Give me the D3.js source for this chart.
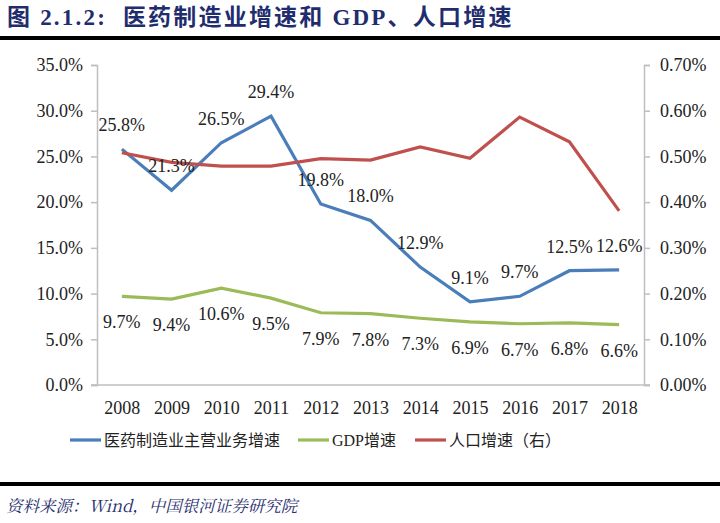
<!DOCTYPE html>
<html><head><meta charset="utf-8">
<script src="https://cdn.jsdelivr.net/npm/d3@7"></script>
<style>
html,body{margin:0;padding:0;background:#fff;}
svg{display:block;}
</style></head>
<body>
<script>
const years = ["2008","2009","2010","2011","2012","2013","2014","2015","2016","2017","2018"];
const pharmaGrowth = [25.8, 21.3, 26.5, 29.4, 19.8, 18.0, 12.9, 9.1, 9.7, 12.5, 12.6];
const gdpGrowth = [9.7, 9.4, 10.6, 9.5, 7.9, 7.8, 7.3, 6.9, 6.7, 6.8, 6.6];
const popGrowth = [0.508, 0.487, 0.479, 0.479, 0.495, 0.492, 0.521, 0.496, 0.586, 0.532, 0.381];
const leftTicks = [0, 5, 10, 15, 20, 25, 30, 35];
const rightTicks = [0, 0.1, 0.2, 0.3, 0.4, 0.5, 0.6, 0.7];
const legendLabels = ["医药制造业主营业务增速", "GDP增速", "人口增速（右）"];
const titleText = "图 2.1.2:  医药制造业增速和 GDP、人口增速";
const sourceText = "资料来源：Wind，中国银河证券研究院";

(function () {
const W = 720, H = 523;
const colors = ["#4a7ebb", "#9bbb59", "#c0504d"];
const serif = "'Liberation Serif','Times New Roman',serif";

const svg = d3.select("body").append("svg").attr("width", W).attr("height", H);

// Title
svg.append("text").attr("x", 7).attr("y", 25)
  .attr("font-family", "'Liberation Serif','Noto Sans CJK SC',serif")
  .attr("font-weight", "bold").attr("font-size", 23).attr("letter-spacing", 2.2).attr("fill", "#1f2d6e")
  .attr("xml:space", "preserve").style("white-space", "pre")
  .text(titleText);
svg.append("rect").attr("x", 0).attr("y", 36).attr("width", W).attr("height", 4).attr("fill", "#000");

// Footer
svg.append("rect").attr("x", 0).attr("y", 482).attr("width", W).attr("height", 4).attr("fill", "#000");
svg.append("text").attr("x", 6).attr("y", 512)
  .attr("font-family", "'Noto Serif CJK SC','Noto Sans CJK SC',serif")
  .attr("font-style", "italic").attr("font-size", 16.5).attr("fill", "#1f2d6e")
  .text(sourceText);

const pL = 97, pR = 644, pT = 65, pB = 385;
const x = d3.scalePoint().domain(years).range([pL, pR]).padding(0.5);
const yL = d3.scaleLinear().domain([0, 35]).range([pB, pT]);
const yR = d3.scaleLinear().domain([0, 0.7]).range([pB, pT]);

const axisColor = "#bfbfbf";
const gL = svg.append("g").attr("transform", `translate(${pL},0)`)
  .call(d3.axisLeft(yL).tickValues(leftTicks).tickFormat(d => d.toFixed(1) + "%").tickSize(6).tickPadding(8));
const gR = svg.append("g").attr("transform", `translate(${pR},0)`)
  .call(d3.axisRight(yR).tickValues(rightTicks).tickFormat(d => d.toFixed(2) + "%").tickSize(6).tickPadding(10));
const gX = svg.append("g").attr("transform", `translate(0,${pB})`)
  .call(d3.axisBottom(x).tickSize(0).tickPadding(16));
[gL, gR, gX].forEach(g => {
  g.select(".domain").attr("stroke", axisColor).attr("stroke-width", 1.5);
  g.selectAll(".tick line").attr("stroke", axisColor).attr("stroke-width", 1.5);
  g.selectAll("text").attr("font-family", serif).attr("font-size", 18).attr("fill", "#222");
});
gX.select(".domain").attr("d", `M${pL - 6},0H${pR + 6}`);

const lineL = d3.line().x((d, i) => x(years[i])).y(d => yL(d));
const lineR = d3.line().x((d, i) => x(years[i])).y(d => yR(d));
svg.append("path").datum(gdpGrowth).attr("d", lineL).attr("fill", "none").attr("stroke", colors[1]).attr("stroke-width", 3.2);
svg.append("path").datum(pharmaGrowth).attr("d", lineL).attr("fill", "none").attr("stroke", colors[0]).attr("stroke-width", 3.2);
svg.append("path").datum(popGrowth).attr("d", lineR).attr("fill", "none").attr("stroke", colors[2]).attr("stroke-width", 3.2);

svg.append("g").selectAll("text").data(pharmaGrowth).join("text")
  .attr("x", (d, i) => x(years[i])).attr("y", d => yL(d) - 18)
  .attr("text-anchor", "middle").attr("font-family", serif).attr("font-size", 18).attr("fill", "#222")
  .text(d => d.toFixed(1) + "%");
svg.append("g").selectAll("text").data(gdpGrowth).join("text")
  .attr("x", (d, i) => x(years[i])).attr("y", d => yL(d) + 32)
  .attr("text-anchor", "middle").attr("font-family", serif).attr("font-size", 18).attr("fill", "#222")
  .text(d => d.toFixed(1) + "%");

const legendX = [70, 298, 415];
const lg = svg.append("g").attr("transform", "translate(0,440)");
legendLabels.forEach((t, i) => {
  lg.append("line").attr("x1", legendX[i]).attr("x2", legendX[i] + 31).attr("y1", 0).attr("y2", 0)
    .attr("stroke", colors[i]).attr("stroke-width", 3.2);
  lg.append("text").attr("x", legendX[i] + 34).attr("y", 6)
    .attr("font-family", "'Liberation Serif','Noto Sans CJK SC',serif").attr("font-size", 16).attr("fill", "#222")
    .text(t);
});
})();
</script>
</body></html>
